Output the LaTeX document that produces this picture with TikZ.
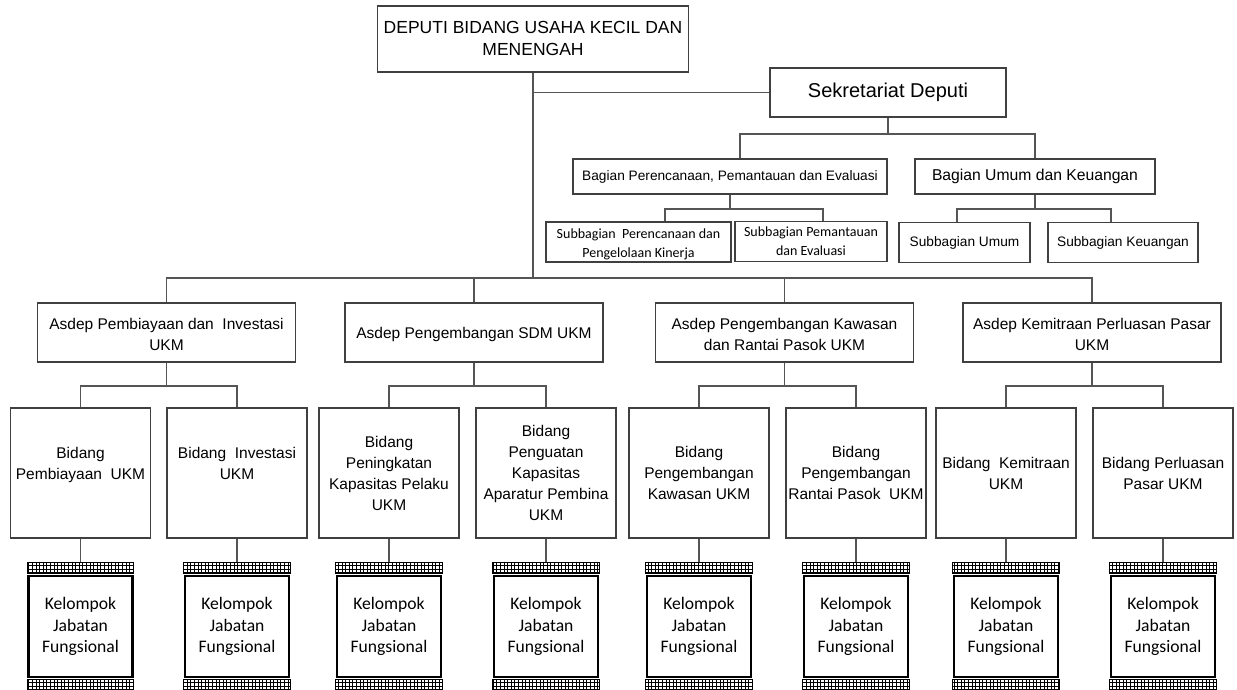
\documentclass[tikz,border=0pt]{standalone}
\usepackage{fontspec}
\setmainfont{Liberation Sans}
\newfontfamily\calfont{Carlito}
\definecolor{boxc}{HTML}{404040}
\definecolor{linec}{HTML}{555555}
\newcommand\fs[2]{\fontsize{#1}{#2}\selectfont}
\newcommand\shiftt[2]{\raisebox{#1}[\height][\depth]{\begin{tabular}{@{}c@{}}#2\end{tabular}}}
\begin{document}
\begin{tikzpicture}[x=1pt,y=-1pt,
  box/.style={draw=boxc,line width=1.1pt,fill=white,inner sep=1pt,align=center},
  conn/.style={draw=linec,line width=1.1pt},
  asd/.style={box,minimum width=258pt,minimum height=59pt,font=\fs{15.5}{21.5}},
  bid/.style={box,minimum width=140pt,minimum height=130pt,font=\fs{15.5}{21}},
  kbox/.style={draw=black,line width=2.6pt,fill=white,minimum width=104pt,minimum height=101pt,inner sep=0pt,align=center,font=\calfont\fs{17.6}{21.5}},
  strip/.style={draw=black,line width=0.7pt,xstep=3.6pt,ystep=3.67pt}
]
\fill[white] (0,0) rectangle (1237,689);
\useasboundingbox (0,0) rectangle (1237,689);

% top
\node[box,minimum width=311pt,minimum height=66pt,font=\fs{17.5}{22}] (dep) at (533,39) {\shiftt{-1pt}{DEPUTI BIDANG USAHA KECIL DAN\\MENENGAH}};
\node[box,minimum width=236pt,minimum height=49pt,font=\fs{20}{24}] (sek) at (888,92.5) {Sekretariat Deputi};
\node[box,minimum width=314pt,minimum height=35pt,font=\fs{13.7}{17}] (bp) at (730,176.5) {Bagian Perencanaan, Pemantauan dan Evaluasi};
\node[box,minimum width=240pt,minimum height=35pt,font=\fs{15.7}{19}] (bu) at (1035,176.5) {Bagian Umum dan Keuangan};
\node[box,minimum width=185pt,minimum height=40pt,font=\calfont\fs{14}{19}] (s1) at (638.5,242) {\shiftt{-2pt}{Subbagian\ \ Perencanaan dan\\Pengelolaan Kinerja}};
\node[box,minimum width=152pt,minimum height=40pt,font=\calfont\fs{14}{19}] (s2) at (811,241.5) {\shiftt{-1pt}{Subbagian Pemantauan\\dan Evaluasi}};
\node[box,minimum width=131pt,minimum height=40pt,font=\fs{13.7}{17}] (su) at (964.5,242.5) {Subbagian Umum};
\node[box,minimum width=150pt,minimum height=40pt,font=\fs{13.7}{17}] (sk) at (1123,242.5) {Subbagian Keuangan};

% asdep
\node[asd] (a1) at (166.5,332.5) {\shiftt{-3pt}{Asdep Pembiayaan dan\ \ Investasi\\UKM}};
\node[asd] (a2) at (474,332.5) {\shiftt{-2pt}{Asdep Pengembangan SDM UKM}};
\node[asd] (a3) at (784.5,332.5) {\shiftt{-3pt}{Asdep Pengembangan Kawasan\\dan Rantai Pasok UKM}};
\node[asd] (a4) at (1092,332.5) {\shiftt{-3pt}{Asdep Kemitraan Perluasan Pasar\\UKM}};

% bidang
\node[bid] (b1) at (80.5,473) {\shiftt{8pt}{Bidang\\Pembiayaan\ \ UKM}};
\node[bid] (b2) at (237,473) {\shiftt{8pt}{Bidang\ \ Investasi\\UKM}};
\node[bid] (b3) at (389,473) {Bidang\\Peningkatan\\Kapasitas Pelaku\\UKM};
\node[bid] (b4) at (546,473) {Bidang\\Penguatan\\Kapasitas\\Aparatur Pembina\\UKM};
\node[bid] (b5) at (699,473) {Bidang\\Pengembangan\\Kawasan UKM};
\node[bid] (b6) at (856,473) {Bidang\\Pengembangan\\Rantai Pasok\ \ UKM};
\node[bid] (b7) at (1006,473) {Bidang\ \ Kemitraan\\UKM};
\node[bid] (b8) at (1163,473) {Bidang Perluasan\\Pasar UKM};

% kelompok
\foreach \i/\x in {1/80.5,2/237,3/389,4/546,5/699,6/856,7/1006,8/1163}{
  \node[kbox] (k\i) at (\x,626.5) {Kelompok\\Jabatan\\Fungsional};
  \draw[strip] ([yshift=1.5pt]k\i.north west) grid ([yshift=12.5pt]k\i.north east);
  \draw[strip] ([yshift=1.5pt]k\i.north west) rectangle ([yshift=12.5pt]k\i.north east);
  \draw[strip] ([yshift=-1.5pt]k\i.south west) grid ([yshift=-11pt]k\i.south east);
  \draw[strip] ([yshift=-1.5pt]k\i.south west) rectangle ([yshift=-11pt]k\i.south east);
  \draw[conn] (b\i.south) -- ([yshift=12.5pt]k\i.north);
}

% connectors top
\coordinate (j2) at (533,278);
\coordinate (t1) at (0,134);
\coordinate (t2) at (0,209);
\coordinate (r1) at (0,386);
\coordinate (bpd) at ([xshift=10pt]bp.north);
\coordinate (s1d) at ([xshift=26.5pt]s1.north);
\coordinate (s2d) at ([xshift=12pt]s2.north);
\coordinate (sud) at ([xshift=-7.5pt]su.north);
\coordinate (skd) at ([xshift=-12pt]sk.north);
\draw[conn] (dep.south) -- (j2);
\draw[conn] (dep.south |- sek.west) -- (sek.west);
\draw[conn] (sek.south) -- (sek.south |- t1);
\draw[conn] (bpd) |- (t1 -| bu.north) -- (bu.north);
\draw[conn] (bp.south) -- (bp.south |- t2);
\draw[conn] (s1d) |- (t2 -| s2d) -- (s2d);
\draw[conn] (bu.south) -- (bu.south |- t2);
\draw[conn] (sud) |- (t2 -| skd) -- (skd);

% asdep bus
\draw[conn] (a1.north) |- (j2 -| a4.north) -- (a4.north);
\draw[conn] (a2.north) -- (a2.north |- j2);
\draw[conn] (a3.north) -- (a3.north |- j2);

% bidang buses
\foreach \a/\l/\r in {1/1/2,2/3/4,3/5/6,4/7/8}{
  \draw[conn] (a\a.south) -- (a\a.south |- r1);
  \draw[conn] (b\l.north) |- (r1 -| b\r.north) -- (b\r.north);
}
\end{tikzpicture}
\end{document}
